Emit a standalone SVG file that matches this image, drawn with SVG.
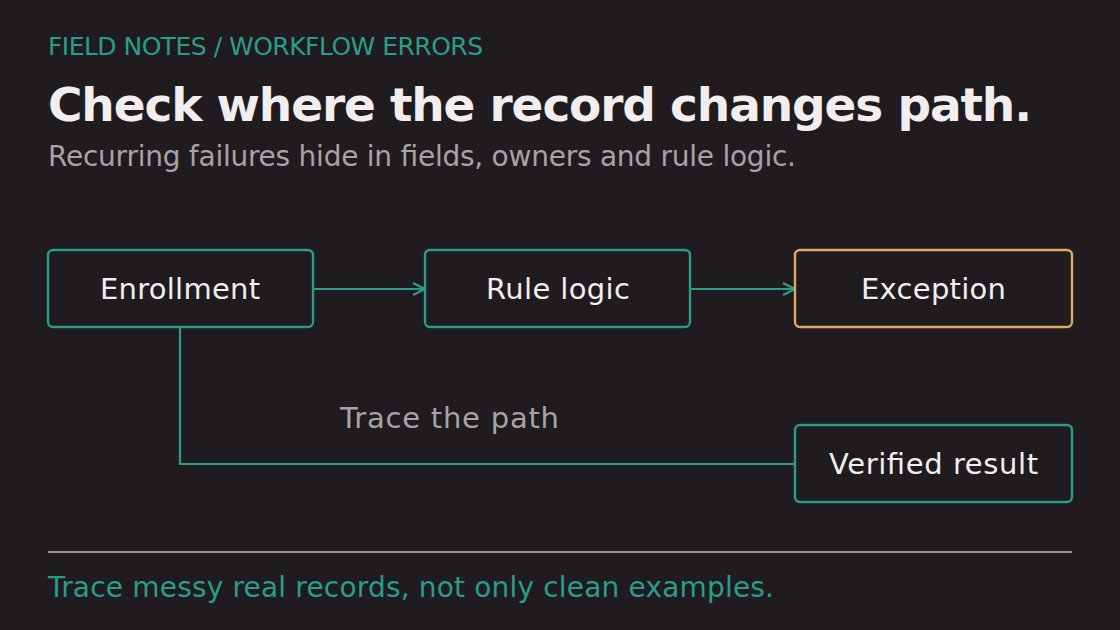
<svg xmlns="http://www.w3.org/2000/svg" width="1120" height="630" viewBox="0 0 1120 630">
<style>
text{font-family:"DejaVu Sans","Noto Sans",sans-serif}
.box{fill:#1f1b1e;stroke:#2a9d8a;stroke-width:2.4}
.warn{stroke:#e0a862}
.lbl{fill:#f2eef0;font-size:29px;text-anchor:middle}
.conn{fill:none;stroke:#2a9d8a;stroke-width:2.2}
</style>
<defs>
<marker id="ah" viewBox="0 0 14 14" refX="13" refY="7" markerWidth="14" markerHeight="14" markerUnits="userSpaceOnUse" orient="auto">
<path d="M1,1 L13,7 L1,13" fill="none" stroke="#2a9d8a" stroke-width="2.2"/>
</marker>
</defs>
<rect width="1120" height="630" fill="#1f1b1e"/>
<text x="48" y="55" font-size="25" fill="#2a9d8a" textLength="435">FIELD NOTES / WORKFLOW ERRORS</text>
<text x="48" y="121" font-size="47" font-weight="bold" fill="#f2eef0" textLength="984">Check where the record changes path.</text>
<text x="48" y="166" font-size="28" fill="#a8a3a6" textLength="748">Recurring failures hide in fields, owners and rule logic.</text>
<g id="connectors">
<path class="conn" d="M313,289 H425" marker-end="url(#ah)"/>
<path class="conn" d="M690,289 H795" marker-end="url(#ah)"/>
<path class="conn" d="M180,328 V464 H795"/>
</g>
<g id="enrollment"><rect class="box" x="48" y="250" width="265" height="77" rx="5"/><text class="lbl" x="180" y="299" textLength="160">Enrollment</text></g>
<g id="rule-logic"><rect class="box" x="425" y="250" width="265" height="77" rx="5"/><text class="lbl" x="558" y="299" textLength="144">Rule logic</text></g>
<g id="exception"><rect class="box warn" x="795" y="250" width="277" height="77" rx="5"/><text class="lbl" x="933.5" y="299" textLength="145">Exception</text></g>
<g id="verified-result"><rect class="box" x="795" y="425" width="277" height="77" rx="5"/><text class="lbl" x="933.5" y="474" textLength="209">Verified result</text></g>
<text x="449.5" y="428" font-size="29" fill="#a8a3a6" text-anchor="middle" textLength="219">Trace the path</text>
<line x1="48" y1="552" x2="1072" y2="552" stroke="#9a9598" stroke-width="2"/>
<text x="48" y="597" font-size="28" fill="#2a9d8a" textLength="726">Trace messy real records, not only clean examples.</text>
</svg>
